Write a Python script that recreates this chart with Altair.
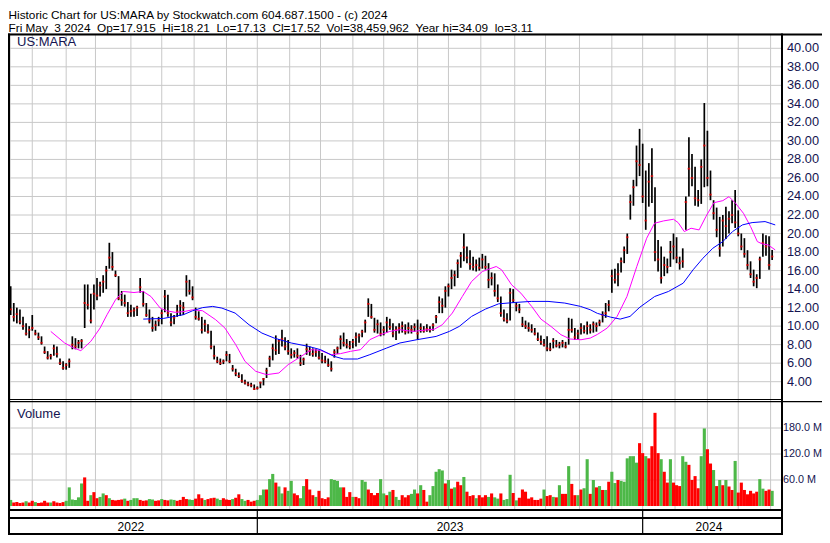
import altair as alt
import pandas as pd

# ---------------- text ----------------
HEADER = [
    "Historic Chart for US:MARA by Stockwatch.com 604.687.1500 - (c) 2024",
    "Fri May  3 2024  Op=17.915  Hi=18.21  Lo=17.13  Cl=17.52  Vol=38,459,962  Year hi=34.09  lo=3.11",
]
SYMBOL = "US:MARA"
VOLUME_LABEL = "Volume"
YEARS = ["2022", "2023", "2024"]
YEAR_CENTER = [80, 287, 455]          # trading-day index of year label centres
YEAR_START = [162, 412]               # trading-day index where 2023 / 2024 begin
MONTH_START = [16, 38, 57, 80, 100, 121, 142, 162, 183, 203, 224, 244,
               266, 286, 307, 329, 349, 371, 392, 412, 433, 454, 474, 495]
PRICE_TICKS = [4, 6, 8, 10, 12, 14, 16, 18, 20, 22, 24, 26, 28, 30, 32, 34, 36, 38, 40]
PRICE_LABELS = ["4.00", "6.00", "8.00", "10.00", "12.00", "14.00", "16.00", "18.00",
                "20.00", "22.00", "24.00", "26.00", "28.00", "30.00", "32.00", "34.00",
                "36.00", "38.00", "40.00"]
VOL_TICKS = [60, 120, 180]
VOL_LABELS = ["60.0 M", "120.0 M", "180.0 M"]

# ---------------- price bars (one bar per 2 trading days) ----------------
DAY = list(range(0, 498, 2))
HIGH = [
    15.3, 14.3, 12.5, 12.0, 11.8, 11.0, 10.3, 10.0, 11.2, 9.6,
    9.3, 8.9, 7.8, 7.3, 7.0, 8.0, 7.8, 6.5, 6.2, 6.0,
    6.5, 8.9, 8.7, 8.5, 8.6, 14.5, 14.5, 13.5, 14.5, 15.2,
    14.8, 15.5, 16.5, 19.0, 18.0, 16.0, 15.4, 13.8, 13.4, 12.6,
    12.3, 12.0, 12.2, 15.2, 13.8, 12.5, 11.8, 11.0, 10.6, 11.0,
    11.8, 13.9, 13.4, 11.4, 11.2, 12.3, 12.8, 12.6, 15.5, 15.0,
    14.3, 12.0, 11.6, 11.0, 10.7, 10.2, 9.5, 7.9, 6.7, 6.5,
    6.4, 7.3, 7.0, 5.8, 5.4, 5.0, 4.8, 4.2, 4.0, 3.9,
    3.7, 3.5, 4.0, 4.4, 5.5, 6.8, 8.1, 9.0, 8.6, 9.6,
    8.8, 8.5, 7.6, 7.4, 7.6, 6.9, 6.6, 8.1, 7.8, 7.6,
    7.5, 7.4, 7.1, 6.8, 6.5, 6.2, 7.5, 7.8, 9.0, 9.3,
    8.6, 8.4, 8.6, 9.3, 9.2, 9.6, 10.7, 13.0, 12.4, 10.9,
    10.7, 10.4, 10.0, 11.0, 10.8, 10.3, 10.0, 10.3, 10.5, 10.2,
    10.4, 10.1, 10.3, 10.7, 10.3, 10.0, 10.2, 10.0, 10.3, 11.2,
    13.2, 13.0, 14.3, 14.6, 16.1, 16.0, 17.2, 18.0, 20.0, 18.6,
    18.2, 17.5, 17.2, 17.4, 17.8, 17.6, 16.8, 15.8, 15.7, 14.5,
    13.2, 11.8, 11.4, 14.1, 14.0, 12.6, 12.4, 11.0, 10.6, 10.4,
    10.2, 9.8, 9.3, 9.0, 8.6, 8.9, 8.2, 8.7, 8.5, 8.3,
    8.5, 8.3, 10.9, 10.8, 9.8, 9.6, 10.3, 10.1, 10.5, 10.2,
    10.5, 10.4, 10.7, 11.6, 12.5, 12.8, 16.1, 16.2, 16.8, 17.4,
    18.6, 20.0, 24.2, 25.8, 29.5, 31.3, 29.7, 26.8, 27.6, 29.2,
    25.0, 19.3, 18.6, 17.5, 17.3, 19.2, 20.0, 19.6, 17.5, 18.4,
    24.0, 30.4, 28.6, 27.2, 24.7, 28.0, 34.09, 31.1, 26.8, 23.6,
    22.8, 21.8, 22.0, 22.9, 22.4, 23.6, 24.7, 22.5, 20.0, 19.5,
    18.2, 17.0, 16.1, 15.6, 17.5, 20.0, 19.8, 19.7, 18.21,
]
LOW = [
    14.3, 11.2, 10.5, 10.3, 10.2, 9.6, 9.0, 8.7, 9.5, 9.0,
    8.5, 8.0, 7.0, 6.4, 6.4, 6.8, 6.6, 5.8, 5.3, 5.3,
    5.5, 7.5, 7.5, 7.6, 7.6, 9.8, 11.8, 10.3, 11.8, 12.8,
    13.2, 13.6, 14.0, 16.2, 16.0, 15.3, 12.8, 12.2, 12.1, 11.0,
    11.0, 11.0, 11.1, 13.6, 12.1, 11.0, 10.3, 9.4, 9.5, 10.0,
    10.2, 11.5, 11.0, 10.0, 10.2, 11.0, 11.1, 11.2, 13.2, 13.4,
    12.8, 10.7, 10.6, 9.2, 9.4, 9.2, 7.5, 6.4, 6.0, 5.8,
    5.9, 6.2, 6.0, 5.1, 4.6, 4.4, 3.9, 3.7, 3.5, 3.4,
    3.11, 3.15, 3.3, 3.6, 4.4, 5.6, 6.3, 6.9, 7.0, 7.8,
    7.4, 6.9, 6.5, 6.6, 6.5, 5.7, 5.8, 6.9, 6.8, 6.7,
    6.7, 6.4, 6.0, 6.0, 5.6, 5.1, 6.6, 7.0, 7.5, 7.8,
    7.6, 7.5, 7.6, 7.8, 8.2, 8.8, 9.3, 11.0, 10.8, 9.3,
    9.2, 8.9, 9.0, 9.3, 9.6, 8.8, 8.5, 9.2, 9.3, 9.1,
    9.2, 9.2, 9.4, 8.5, 9.3, 9.3, 9.4, 9.3, 9.5, 10.3,
    11.4, 11.4, 12.0, 13.2, 14.0, 14.3, 15.2, 16.3, 17.0, 16.8,
    16.1, 16.0, 15.9, 16.0, 16.2, 16.1, 14.1, 14.4, 13.2, 12.6,
    11.0, 10.5, 10.3, 10.6, 12.5, 11.6, 11.4, 9.9, 9.7, 9.4,
    9.3, 9.0, 8.4, 8.0, 7.8, 7.3, 7.3, 7.6, 7.7, 7.6,
    7.7, 7.6, 8.0, 9.3, 8.5, 8.6, 9.1, 9.2, 9.1, 9.2,
    9.3, 9.4, 10.0, 10.4, 10.9, 11.6, 13.6, 14.6, 14.3, 15.8,
    16.8, 17.8, 21.5, 23.0, 25.1, 26.2, 23.3, 20.4, 22.9, 23.3,
    17.0, 15.9, 14.6, 15.4, 15.7, 16.4, 17.2, 16.8, 16.1, 16.3,
    20.4, 24.0, 25.1, 23.0, 22.9, 23.2, 25.0, 25.1, 23.6, 21.5,
    19.6, 17.5, 18.6, 19.4, 20.0, 21.1, 20.6, 19.7, 18.2, 17.4,
    16.1, 15.2, 14.3, 14.1, 15.1, 17.5, 17.6, 16.1, 17.13,
]
CLOSE = [
    15.0, 11.8, 11.0, 11.3, 10.5, 10.0, 9.2, 9.6, 9.8, 9.2,
    8.8, 8.2, 7.2, 6.6, 6.8, 7.6, 7.0, 6.0, 5.5, 5.8,
    6.2, 8.0, 7.8, 8.2, 8.4, 12.5, 12.3, 10.6, 13.5, 13.3,
    14.4, 14.8, 16.0, 17.4, 16.4, 15.5, 13.0, 12.8, 12.5, 11.4,
    11.6, 11.7, 12.0, 14.2, 12.4, 11.2, 10.6, 9.8, 10.1, 10.6,
    11.4, 13.2, 11.4, 10.4, 10.9, 11.6, 12.2, 12.0, 14.8, 13.8,
    13.1, 11.0, 10.8, 9.6, 10.2, 9.4, 7.8, 6.8, 6.2, 6.0,
    6.2, 6.9, 6.2, 5.4, 4.9, 4.6, 4.1, 3.9, 3.7, 3.6,
    3.2, 3.3, 3.9, 4.3, 5.2, 6.5, 7.6, 7.4, 8.4, 8.6,
    7.8, 7.3, 6.9, 7.1, 6.8, 6.0, 6.4, 7.5, 7.3, 7.0,
    7.2, 6.6, 6.3, 6.2, 5.8, 5.4, 7.2, 7.6, 8.6, 8.2,
    8.0, 7.8, 8.3, 8.8, 9.0, 9.4, 10.4, 12.4, 11.0, 9.6,
    10.2, 9.2, 9.6, 10.4, 9.9, 9.2, 9.6, 9.8, 10.0, 9.4,
    9.8, 9.6, 9.9, 9.2, 9.8, 9.5, 9.7, 9.6, 10.1, 11.0,
    12.6, 12.2, 13.8, 14.3, 15.2, 15.5, 16.8, 17.6, 18.5, 17.4,
    16.7, 16.4, 16.6, 16.3, 17.2, 16.4, 15.0, 15.2, 13.8, 13.0,
    11.4, 10.8, 10.6, 13.6, 12.8, 12.2, 11.8, 10.2, 10.0, 9.8,
    9.6, 9.2, 8.6, 8.3, 8.0, 7.6, 7.5, 8.4, 7.9, 8.0,
    8.2, 7.8, 9.6, 9.6, 8.8, 9.2, 9.8, 9.5, 10.0, 9.6,
    10.2, 10.0, 10.4, 11.2, 11.4, 12.3, 15.4, 15.0, 15.6, 17.0,
    18.2, 19.6, 23.4, 25.0, 27.8, 27.4, 24.0, 21.4, 25.6, 26.2,
    18.0, 17.2, 15.2, 16.6, 16.4, 18.0, 18.6, 17.4, 16.8, 17.0,
    23.4, 27.0, 26.0, 23.8, 23.6, 27.2, 29.5, 26.0, 24.2, 22.2,
    20.4, 18.4, 21.4, 20.8, 21.6, 22.0, 21.2, 20.0, 18.6, 17.8,
    16.6, 15.6, 14.8, 15.2, 17.2, 19.0, 18.6, 16.6, 17.52,
]
VOL = [  # millions of shares
    10, 14, 8, 9, 7, 8, 11, 8, 12, 9,
    7, 8, 12, 8, 8, 11, 8, 7, 9, 12,
    43, 15, 14, 20, 52, 66, 12, 25, 32, 18,
    21, 29, 25, 18, 14, 13, 14, 15, 17, 12,
    14, 18, 18, 14, 12, 13, 16, 15, 12, 13,
    16, 14, 13, 15, 14, 12, 14, 21, 16, 15,
    14, 17, 27, 18, 14, 16, 18, 19, 17, 14,
    18, 15, 14, 16, 19, 27, 16, 12, 14, 10,
    12, 14, 25, 38, 38, 62, 74, 54, 45, 29,
    43, 35, 58, 29, 25, 18, 46, 62, 38, 25,
    21, 35, 18, 16, 20, 62, 60, 58, 43, 43,
    21, 32, 21, 21, 18, 60, 56, 38, 30, 25,
    30, 62, 29, 25, 33, 37, 21, 14, 25, 20,
    25, 28, 38, 29, 48, 37, 10, 25, 46, 79,
    85, 82, 52, 60, 40, 43, 56, 48, 67, 33,
    23, 25, 18, 25, 20, 25, 21, 29, 20, 17,
    29, 14, 16, 72, 30, 13, 19, 38, 33, 17,
    20, 14, 14, 17, 38, 23, 25, 21, 20, 48,
    28, 28, 92, 51, 25, 25, 38, 41, 108, 28,
    60, 43, 46, 37, 37, 56, 79, 53, 60, 58,
    56, 110, 115, 115, 100, 145, 122, 115, 110, 138,
    215, 122, 108, 79, 54, 108, 54, 48, 46, 115,
    102, 95, 60, 69, 41, 115, 179, 131, 98, 83,
    46, 60, 48, 60, 45, 37, 104, 31, 54, 37,
    27, 35, 29, 33, 62, 40, 35, 38, 35,
]
DIR = "".join([  # g = up day (green volume), r = down day (red volume)
    "rgrrrrgrrg", "rrrrgrrrrg", "gggggrrgrr", "ggrgrrrrgr", "gggrrrggrr",
    "grrggrrrrg", "grrrgrrrgg", "rrrgrrggrr", "rgggrggrgg", "rggrrggrrr",
    "grrrrggggr", "rrgrrggrrr", "rggrgrggrr", "rggrgrrggg", "ggrgrgrrgr",
    "rrgrrrgrgg", "rgggrgrrrr", "rrrrgrrgrg", "rrgrrgrggr", "grgrgrggrg",
    "gggggrrgrr", "rrgrrgrrrg", "grrrrggrrg", "rgrgrrgrrr", "rrrrggrrg",
])

# ---------------- moving averages ----------------
PINK_DAY = [28, 37, 43, 47.5, 54, 60, 64.5, 70, 75, 82,
            88, 93, 99, 103, 109, 115, 120, 126.5, 135, 141,
            148, 154, 161, 168, 176, 182, 190.5, 197, 203, 210,
            216, 222.5, 229, 235, 242, 248, 254.5, 263, 269, 277,
            282, 288.5, 295, 301, 308, 317, 320.5, 327, 333, 340,
            346, 352.5, 359, 365, 372, 378, 382.6, 389, 395.4, 401.8,
            408.2, 414.6, 419.7, 425.5, 432, 435, 439, 443.4, 448.6, 453,
            458.2, 464, 468, 472.3, 477.4, 482, 486.4, 489.6, 493.4, 498]
PINK_VAL = [9.43, 8.18, 7.64, 7.35, 8.36, 9.79, 11.23, 12.84, 13.74, 13.63,
            13.74, 13.2, 11.95, 11.66, 11.48, 11.59, 11.77, 11.66, 10.69, 9.79,
            8.0, 6.2, 5.12, 4.76, 4.94, 5.84, 6.74, 7.46, 7.38, 6.92,
            7.03, 7.28, 7.46, 8.54, 9.07, 9.43, 9.61, 9.43, 9.54, 9.68,
            10.15, 11.41, 13.2, 14.82, 15.9, 16.44, 16.08, 14.46, 13.56, 12.13,
            10.76, 9.97, 9.07, 8.61, 8.53, 8.71, 9.1, 9.79, 11.05, 13.2,
            16.44, 19.49, 21.11, 21.36, 21.54, 21.18, 20.21, 20.57, 20.39, 21.82,
            23.33, 23.55, 23.98, 23.26, 22.18, 20.75, 19.13, 18.88, 18.77, 18.23]
BLUE_DAY = [88, 101, 114, 120, 126.5, 133, 139, 147.6, 156.6, 165,
            173, 184, 195, 203, 211.7, 218, 227, 235, 246, 254.5,
            265.4, 278, 286.6, 293, 301, 310, 318.6, 329.5, 339.7, 350.6,
            361.5, 371.7, 378, 382.6, 391, 397.4, 403.8, 410.2, 419.8, 428.7,
            438.3, 444.7, 451.1, 457.5, 464, 470.3, 476.7, 483, 491.4, 498]
BLUE_VAL = [10.76, 10.83, 11.23, 11.66, 12.0, 12.13, 11.95, 11.41, 10.15, 9.25,
            8.71, 8.18, 7.82, 7.46, 6.74, 6.45, 6.45, 6.92, 7.64, 8.18,
            8.53, 8.89, 9.43, 9.97, 11.05, 11.84, 12.41, 12.56, 12.67, 12.67,
            12.49, 12.13, 11.77, 11.38, 10.98, 10.76, 11.05, 12.05, 13.2, 13.74,
            14.64, 16.08, 17.33, 18.41, 19.13, 20.21, 20.93, 21.18, 21.29, 20.93]

n = len(DAY)
assert all(len(a) == n for a in (HIGH, LOW, CLOSE, VOL, DIR)), [len(a) for a in (DAY, HIGH, LOW, CLOSE, VOL, DIR)]
assert len(PINK_DAY) == len(PINK_VAL) and len(BLUE_DAY) == len(BLUE_VAL)

# ---------------- styling ----------------
FONT = "Liberation Sans"
GRID = "#c8c8c8"
LABEL = "#141450"
GREEN = "#4db848"
RED = "#ff0000"
W, H = 771, 477

xs = alt.Scale(domain=[4.8, 498.5], range=[0, W], nice=False, zero=False)
ps = alt.Scale(domain=[4, 40], range=[348.7, 15.3], nice=False, zero=False)
vs = alt.Scale(domain=[0, 180], range=[473, 395], nice=False, zero=False)

df = pd.DataFrame({"day": DAY, "high": HIGH, "low": LOW, "close": CLOSE,
                   "vol": VOL, "dir": ["up" if c == "g" else "down" for c in DIR]})

# grid lines and tick labels, drawn through the same scales
month_grid = alt.Chart(pd.DataFrame({"m": MONTH_START})).mark_rule(
    color=GRID, strokeWidth=1).encode(
    x=alt.X("m:Q", scale=xs, axis=None), y=alt.value(1), y2=alt.value(H))
pdf = pd.DataFrame({"p": PRICE_TICKS, "lbl": PRICE_LABELS})
price_grid = alt.Chart(pdf).mark_rule(color=GRID, strokeWidth=1).encode(
    y=alt.Y("p:Q", scale=ps, axis=None), x=alt.value(0), x2=alt.value(W))
price_lbl = alt.Chart(pdf).mark_text(
    align="left", baseline="middle", font=FONT, fontSize=12.8, color=LABEL).encode(
    y=alt.Y("p:Q", scale=ps, axis=None), x=alt.value(777), text="lbl:N")
vdf = pd.DataFrame({"v": VOL_TICKS, "lbl": VOL_LABELS})
vol_grid = alt.Chart(vdf).mark_rule(color=GRID, strokeWidth=1).encode(
    y=alt.Y("v:Q", scale=vs, axis=None), x=alt.value(0), x2=alt.value(W))
vol_lbl = alt.Chart(vdf).mark_text(
    align="left", baseline="middle", font=FONT, fontSize=10.8, color=LABEL).encode(
    y=alt.Y("v:Q", scale=vs, axis=None), x=alt.value(773), text="lbl:N")

price_bars = alt.Chart(df).mark_rule(color="black", strokeWidth=1.7, clip=True).encode(
    x=alt.X("day:Q", scale=xs, axis=None),
    y=alt.Y("low:Q", scale=ps, axis=None),
    y2="high:Q",
)
close_ticks = alt.Chart(df).mark_tick(color=RED, orient="horizontal", size=2.6,
                                      thickness=1.8, clip=True).encode(
    x=alt.X("day:Q", scale=xs, axis=None),
    y=alt.Y("close:Q", scale=ps, axis=None),
)
pink = alt.Chart(pd.DataFrame({"day": PINK_DAY, "v": PINK_VAL})).mark_line(
    color="#ff00ff", strokeWidth=1).encode(
    x=alt.X("day:Q", scale=xs, axis=None),
    y=alt.Y("v:Q", scale=ps, axis=None),
)
blue = alt.Chart(pd.DataFrame({"day": BLUE_DAY, "v": BLUE_VAL})).mark_line(
    color="#0000ff", strokeWidth=1).encode(
    x=alt.X("day:Q", scale=xs, axis=None),
    y=alt.Y("v:Q", scale=ps, axis=None),
)

volume = alt.Chart(df).mark_bar(width=3.1, clip=True).encode(
    x=alt.X("day:Q", scale=xs, axis=None),
    y=alt.Y("vol:Q", scale=vs, axis=None),
    y2=alt.value(475.5),
    color=alt.Color("dir:N", scale=alt.Scale(domain=["up", "down"], range=[GREEN, RED]),
                    legend=None),
)

one = pd.DataFrame({"k": [0]})


def hline(x1, x2, y, w):
    return alt.Chart(one).mark_rule(color="black", strokeWidth=w).encode(
        x=alt.value(x1), x2=alt.value(x2), y=alt.value(y))


def vline(x, y1, y2, w):
    return alt.Chart(one).mark_rule(color="black", strokeWidth=w).encode(
        x=alt.value(x), y=alt.value(y1), y2=alt.value(y2))


def label(text, x, y, size, color):
    return alt.Chart(pd.DataFrame({"t": [text]})).mark_text(
        align="left", baseline="alphabetic", font=FONT, fontSize=size, color=color
    ).encode(x=alt.value(x), y=alt.value(y), text="t:N")


frame = [
    hline(-2, 812, 1.4, 2),       # top border
    vline(-1, 0.4, 502, 2),       # left border
    vline(772, 0.4, 502, 2),      # right border / axis separator
    hline(-2, 772, 366.5, 1),     # price / volume double line
    hline(-2, 812, 368.7, 1.2),
    hline(-2, 772, 477, 2),       # volume bottom
    hline(-2, 772, 485, 2),       # between the two bottom rows
    hline(-2, 772, 501, 2),       # bottom border
]

year_df = pd.DataFrame({"year": YEARS, "c": YEAR_CENTER})
years = alt.Chart(year_df).mark_text(font=FONT, fontSize=12, color="black",
                                     baseline="alphabetic").encode(
    x=alt.X("c:Q", scale=xs, axis=None), y=alt.value(497.5), text="year:N")
year_div = alt.Chart(pd.DataFrame({"d": YEAR_START})).mark_rule(
    color="black", strokeWidth=1.2).encode(
    x=alt.X("d:Q", scale=xs, axis=None), y=alt.value(477), y2=alt.value(501))

texts = [
    label(HEADER[0], -1.5, -14.1, 11.8, "black"),
    label(HEADER[1].replace("  ", " \u00a0"), -1.5, -0.8, 11.8, "black"),
    label(SYMBOL, 7, 13.2, 13, LABEL),
    label(VOLUME_LABEL, 7, 385, 13, LABEL),
]

chart = alt.layer(
    month_grid, price_grid, vol_grid,
    price_bars, close_ticks, pink, blue, volume,
    price_lbl, vol_lbl,
    *frame, year_div, years, *texts
).resolve_scale(y="independent").properties(
    width=W, height=H,
    padding={"left": 2, "top": 25, "right": 41, "bottom": 25},
    autosize=alt.AutoSizeParams(type="none"),
).configure_view(strokeWidth=0).configure(background="white")

chart.save("out.html", embed_options={"renderer": "svg", "actions": False})
